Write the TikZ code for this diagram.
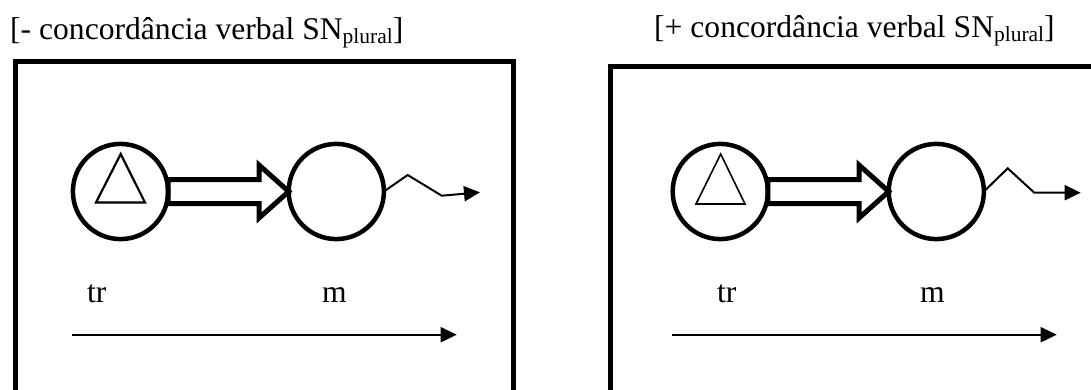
\documentclass[tikz,border=0pt]{standalone}
\usepackage{fontspec}
\setmainfont{Liberation Serif}
\usetikzlibrary{calc, arrows.meta}

\newcommand{\plural}{\raisebox{-4pt}{\fontsize{21.5}{22}\selectfont plural}}

\begin{document}
\begin{tikzpicture}[x=1pt, y=-1pt, >=Triangle,
    frame/.style={line width=5pt, line join=miter},
    ring/.style={circle, draw, line width=4.5pt, minimum size=95.2pt, inner sep=0pt, outer sep=0pt},
    fatarrow/.style={draw, line width=5pt, line join=miter},
    thinarrow/.style={line width=2pt, -{Triangle[length=16pt, width=15pt]}},
    word/.style={font=\fontsize{31.6}{36}\selectfont, inner sep=0pt, anchor=base}]
    \useasboundingbox (0,0) rectangle (1091,389);
    \clip (0,0) rectangle (1091,389);

    % titulos
    \node[word, anchor=base west] (titleL) at (10,39.3) {[- concordância verbal SN\plural]};
    \node[word, anchor=base west] (titleR) at (654,37.5) {[+ concordância verbal SN\plural]};

    % molduras
    \draw[frame] (15,430) -- (15,61) -- (513.5,61) -- (513.5,430);
    \draw[frame] (610,430) -- (610,66.7) -- (1110,66.7);

    % painel esquerdo
    \node[ring] (trL) at (120.5,191.5) {};
    \node[ring] (mL) at (336.3,191.5) {};
    \draw[line width=2.2pt] ($(trL)+(0.2,-37.5)$) -- ($(trL)+(24.5,11)$) -- ($(trL)+(-24.5,11)$) -- cycle;
    \draw[fatarrow] ($(trL.east)+(0,-12)$) -- ($(mL.west)+(-29.7,-12)$) -- ($(mL.west)+(-29.7,-26.5)$)
        -- (mL.west) -- ($(mL.west)+(-29.7,26.5)$) -- ($(mL.west)+(-29.7,12)$) -- ($(trL.east)+(0,12)$) -- cycle;
    \coordinate (outL) at (480,192.3);
    \draw[thinarrow] (mL.east) -- (407.7,175) -- (441.7,195.7) -- (outL);
    \node[word] (trlabL) at (96.7,302.7) {tr};
    \node[word] (mlabL) at (334.3,302.7) {m};
    \coordinate (timeL0) at (71.7,334.7);
    \coordinate (timeL1) at (456.7,334.7);
    \draw[thinarrow] (timeL0) -- (timeL1);

    % painel direito
    \node[ring] (trR) at (720.3,191.5) {};
    \node[ring] (mR) at (936.3,191.5) {};
    \draw[line width=1.6pt] ($(trR)+(0.4,-37.5)$) -- ($(trR)+(24.7,12.5)$) -- ($(trR)+(-24.3,12.5)$) -- cycle;
    \draw[fatarrow] ($(trR.east)+(0,-12)$) -- ($(mR.west)+(-29.7,-12)$) -- ($(mR.west)+(-29.7,-26.5)$)
        -- (mR.west) -- ($(mR.west)+(-29.7,26.5)$) -- ($(mR.west)+(-29.7,12)$) -- ($(trR.east)+(0,12)$) -- cycle;
    \coordinate (outR) at (1080.7,192.7);
    \draw[thinarrow] (mR.east) -- (1007.7,168.3) -- (1034.3,192.7) -- (outR);
    \node[word] (trlabR) at (726.7,302.3) {tr};
    \node[word] (mlabR) at (932.3,302.3) {m};
    \coordinate (timeR0) at (671.7,334.7);
    \coordinate (timeR1) at (1056.7,334.7);
    \draw[thinarrow] (timeR0) -- (timeR1);
\end{tikzpicture}
\end{document}
